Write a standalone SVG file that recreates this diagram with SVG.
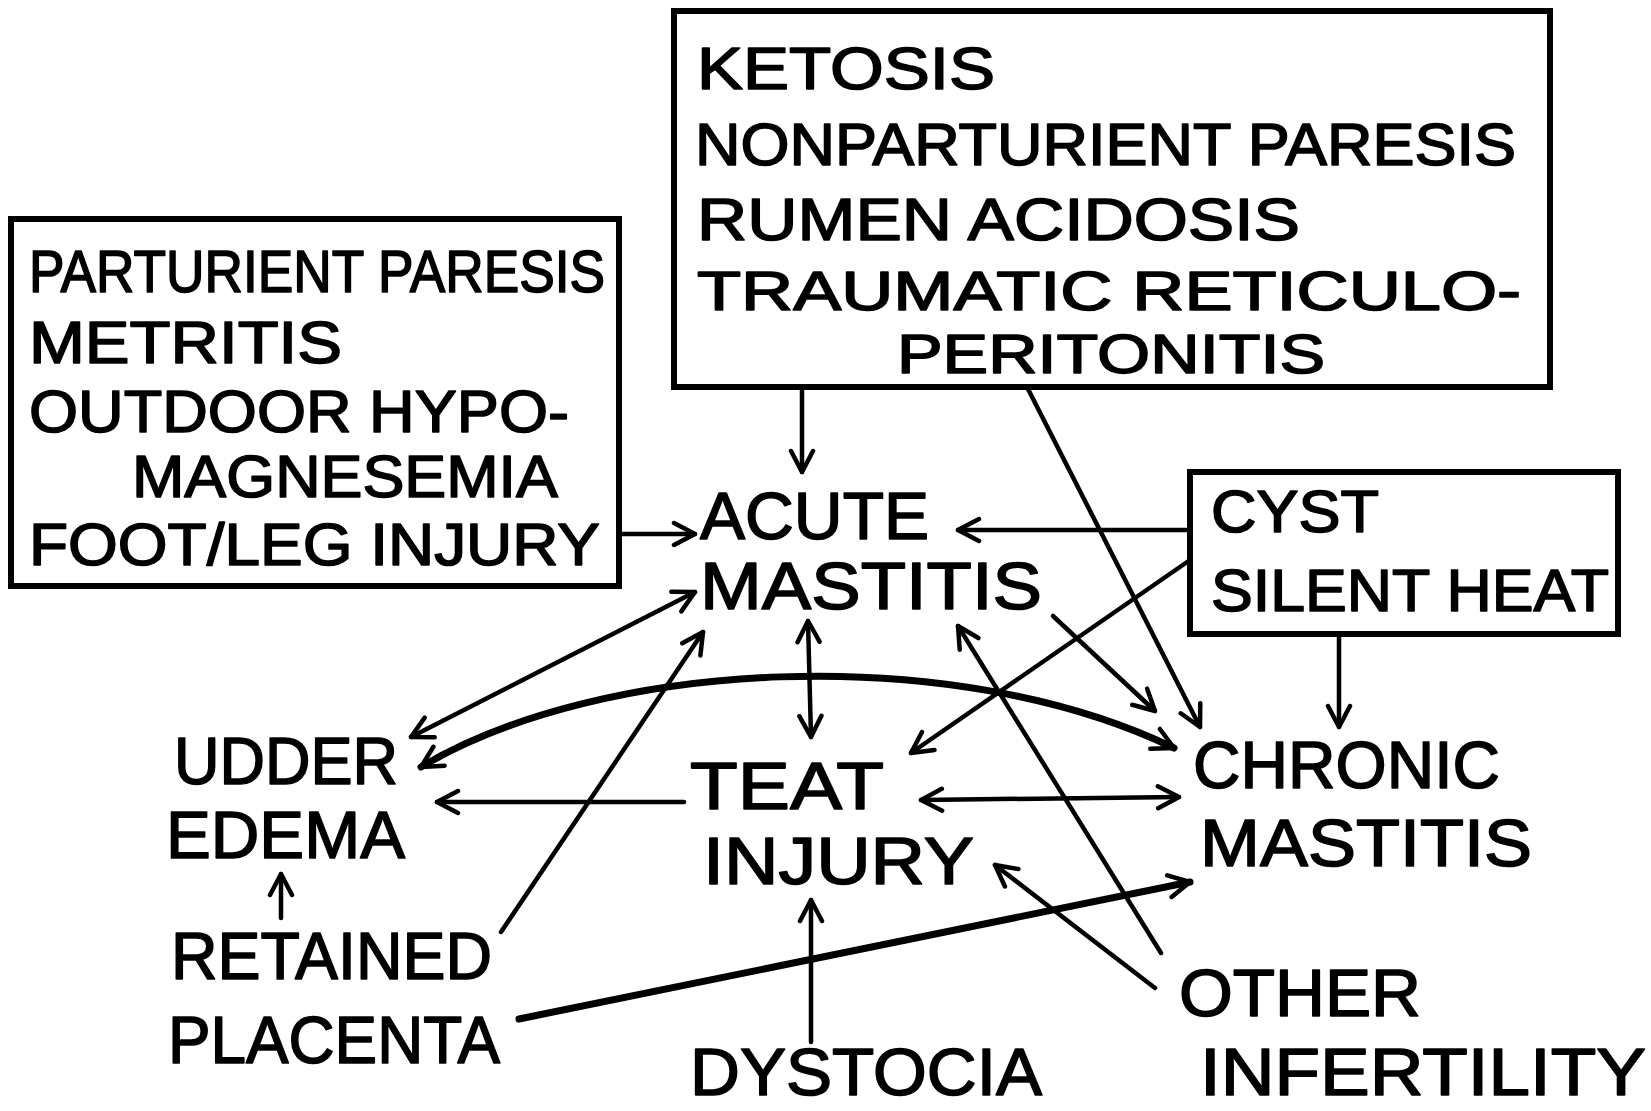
<svg xmlns="http://www.w3.org/2000/svg" width="1651" height="1111" viewBox="0 0 1651 1111">
<style>
text{font-family:"Liberation Sans","DejaVu Sans",sans-serif;fill:#000;stroke:#000;stroke-width:1.6;stroke-linejoin:round;}
.bx{font-size:60px;}
.bs{font-size:56px;}
.nd{font-size:67px;}
.box{fill:none;stroke:#000;stroke-width:6;}
.c{fill:none;stroke:#000;stroke-width:4.5;stroke-linecap:round;}
.cw{fill:none;stroke:#000;stroke-width:7;stroke-linecap:round;}
</style>
<defs>
<marker id="ah" viewBox="0 0 28 28" refX="25" refY="14" markerWidth="28" markerHeight="28" markerUnits="userSpaceOnUse" orient="auto-start-reverse">
<path d="M4,3 L25,14 L4,25" fill="none" stroke="#000" stroke-width="4.5" stroke-linecap="round" stroke-linejoin="round"/>
</marker>
</defs>
<rect width="1651" height="1111" fill="#fff"/>

<g id="box-metabolic">
<rect class="box" x="674" y="11" width="876" height="376"/>
<text class="bx" x="697" y="89" textLength="298" lengthAdjust="spacingAndGlyphs">KETOSIS</text>
<text class="bx" x="695" y="165" textLength="821" lengthAdjust="spacingAndGlyphs">NONPARTURIENT PARESIS</text>
<text class="bx" x="697" y="240" textLength="603" lengthAdjust="spacingAndGlyphs">RUMEN ACIDOSIS</text>
<text class="bs" x="697" y="310" textLength="824" lengthAdjust="spacingAndGlyphs">TRAUMATIC RETICULO-</text>
<text class="bs" x="897" y="373" textLength="428" lengthAdjust="spacingAndGlyphs">PERITONITIS</text>
</g>

<g id="box-periparturient">
<rect class="box" x="11" y="219" width="608" height="367"/>
<text class="bx" x="29" y="292" textLength="576" lengthAdjust="spacingAndGlyphs">PARTURIENT PARESIS</text>
<text class="bx" x="29" y="363" textLength="313" lengthAdjust="spacingAndGlyphs">METRITIS</text>
<text class="bx" x="29" y="432" textLength="540" lengthAdjust="spacingAndGlyphs">OUTDOOR HYPO-</text>
<text class="bx" x="132" y="497" textLength="426" lengthAdjust="spacingAndGlyphs">MAGNESEMIA</text>
<text class="bx" x="29" y="565" textLength="571" lengthAdjust="spacingAndGlyphs">FOOT/LEG INJURY</text>
</g>

<g id="box-cyst">
<rect class="box" x="1190" y="472" width="428" height="162"/>
<text class="bx" x="1211" y="532" textLength="168" lengthAdjust="spacingAndGlyphs">CYST</text>
<text class="bx" x="1211" y="611" textLength="398" lengthAdjust="spacingAndGlyphs">SILENT HEAT</text>
</g>

<g id="acute-mastitis">
<text class="nd" x="700" y="539" textLength="229" lengthAdjust="spacingAndGlyphs">ACUTE</text>
<text class="nd" x="700" y="609" textLength="342" lengthAdjust="spacingAndGlyphs">MASTITIS</text>
</g>
<g id="udder-edema">
<text class="nd" x="174" y="784" textLength="224" lengthAdjust="spacingAndGlyphs">UDDER</text>
<text class="nd" x="166" y="858" textLength="239" lengthAdjust="spacingAndGlyphs">EDEMA</text>
</g>
<g id="teat-injury">
<text class="nd" x="690" y="809" textLength="194" lengthAdjust="spacingAndGlyphs">TEAT</text>
<text class="nd" x="703" y="884" textLength="271" lengthAdjust="spacingAndGlyphs">INJURY</text>
</g>
<g id="chronic-mastitis">
<text class="nd" x="1193" y="788" textLength="307" lengthAdjust="spacingAndGlyphs">CHRONIC</text>
<text class="nd" x="1200" y="866" textLength="332" lengthAdjust="spacingAndGlyphs">MASTITIS</text>
</g>
<g id="retained-placenta">
<text class="nd" x="171" y="979" textLength="321" lengthAdjust="spacingAndGlyphs">RETAINED</text>
<text class="nd" x="168" y="1063" textLength="332" lengthAdjust="spacingAndGlyphs">PLACENTA</text>
</g>
<g id="dystocia">
<text class="nd" x="690" y="1095" textLength="352" lengthAdjust="spacingAndGlyphs">DYSTOCIA</text>
</g>
<g id="other-infertility">
<text class="nd" x="1179" y="1016" textLength="242" lengthAdjust="spacingAndGlyphs">OTHER</text>
<text class="nd" x="1200" y="1095" textLength="446" lengthAdjust="spacingAndGlyphs">INFERTILITY</text>
</g>

<g id="connectors">
<line class="c" x1="802" y1="387" x2="802" y2="472" marker-end="url(#ah)"/>
<line class="c" x1="1027" y1="387" x2="1200" y2="727" marker-end="url(#ah)"/>
<line class="c" x1="619" y1="534" x2="695" y2="534" marker-end="url(#ah)"/>
<line class="c" x1="1190" y1="530" x2="958" y2="530" marker-end="url(#ah)"/>
<line class="c" x1="1190" y1="560" x2="911" y2="753" marker-end="url(#ah)"/>
<line class="c" x1="1339" y1="634" x2="1339" y2="727" marker-end="url(#ah)"/>
<line class="c" x1="411" y1="737" x2="695" y2="592" marker-start="url(#ah)" marker-end="url(#ah)"/>
<path class="cw" d="M421,767 C600,660 950,640 1174,748" marker-start="url(#ah)" marker-end="url(#ah)"/>
<line class="c" x1="501" y1="932" x2="703" y2="632" marker-end="url(#ah)"/>
<line class="c" x1="808" y1="621" x2="811" y2="737" marker-start="url(#ah)" marker-end="url(#ah)"/>
<line class="c" x1="1053" y1="616" x2="1155" y2="711" marker-end="url(#ah)"/>
<line class="c" x1="921" y1="800" x2="1179" y2="797" marker-start="url(#ah)" marker-end="url(#ah)"/>
<line class="c" x1="684" y1="802" x2="437" y2="802" marker-end="url(#ah)"/>
<line class="c" x1="1161" y1="953" x2="958" y2="626" marker-end="url(#ah)"/>
<line class="c" x1="1155" y1="988" x2="995" y2="865" marker-end="url(#ah)"/>
<line class="cw" x1="519" y1="1019" x2="1190" y2="882" marker-end="url(#ah)"/>
<line class="c" x1="811" y1="1042" x2="811" y2="900" marker-end="url(#ah)"/>
<line class="c" x1="281" y1="918" x2="281" y2="874" marker-end="url(#ah)"/>
</g>
</svg>
